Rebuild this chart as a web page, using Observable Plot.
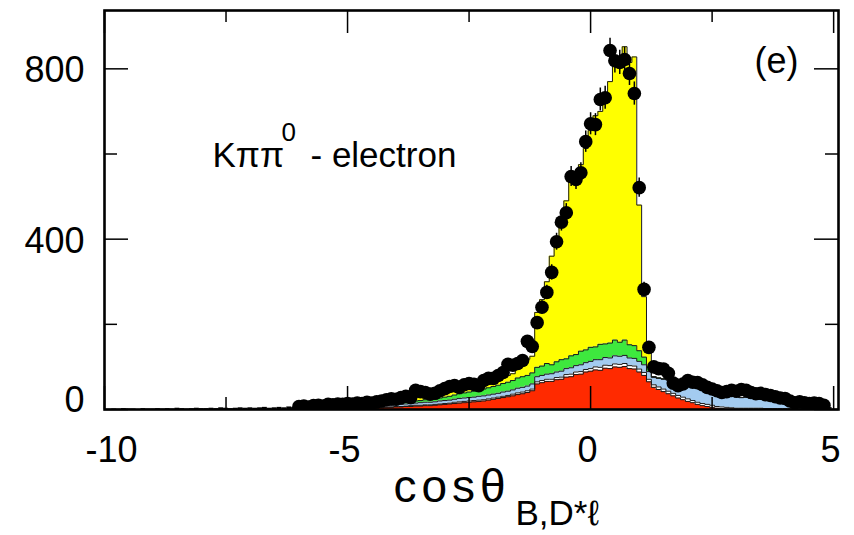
<!DOCTYPE html>
<html><head><meta charset="utf-8">
<script src="https://cdn.jsdelivr.net/npm/d3@7"></script>
<script src="https://cdn.jsdelivr.net/npm/@observablehq/plot@0.6"></script>
<style>
body{margin:0;background:#fff}
#chart svg{display:block}
text[aria-label="xtitle"]{letter-spacing:5px}
</style>
</head><body><div id="chart"></div>
<script>
// bins: centres from -6.0 to 4.9, width 0.1
const firstCentre = -6.0;
const binWidth = 0.1;

// stacked MC components (bottom -> top)
const red = [
  0,0,0,0,0,0,0,0,1,1,
  1,1,2,2,2,3,3,4,5,5,
  6,6,7,7,8,8,9,9,10,11,
  12,13,14,15,16,17,18,19,20,22,
  24,26,28,30,32,35,37,40,44,60,
  63,66,66,70,71,76,77,82,83,88,
  90,93,92,97,96,100,99,101,96,95,
  88,80,65,52,47,42,37,32,27,23,
  19,16,12,9,7,5,3,2,1,1,
  0,0,0,0,0,0,0,0,0,0,
  0,0,0,0,0,0,0,0,0,0];
const white = [
  0,0,0,0,0,0,0,1,0,1,
  1,1,1,1,1,1,1,1,1,1,
  1,1,1,2,2,2,2,2,2,2,
  2,2,3,3,3,3,3,3,3,3,
  3,3,3,3,4,4,4,4,4,5,
  5,5,5,5,5,6,6,6,6,6,
  6,7,7,7,7,7,7,7,7,7,
  7,7,6,6,6,6,6,6,6,6,
  6,5,5,5,5,5,4,4,4,3,
  3,3,3,3,3,3,2,2,2,2,
  2,2,2,2,2,2,2,1,1,1];
const lightBlue = [
  1,1,1,1,2,1,2,2,2,2,
  2,3,3,3,3,3,4,4,4,4,
  4,5,5,5,5,6,6,6,6,7,
  7,7,7,8,8,8,8,9,9,9,
  9,9,10,10,10,11,11,11,12,12,
  12,12,13,13,14,14,15,15,16,16,
  17,17,18,18,18,19,19,19,18,18,
  18,18,18,17,20,23,26,28,30,31,
  33,35,37,37,36,35,35,32,30,28,
  27,25,26,24,25,22,23,20,19,16,
  15,13,12,11,10,9,8,7,5,3];
const green = [
  0,0,0,0,0,1,0,1,1,1,
  1,1,1,2,2,2,2,2,3,3,
  3,3,4,4,5,5,6,6,7,7,
  8,9,10,11,12,13,14,15,16,17,
  18,19,20,21,22,24,25,25,26,22,
  22,25,21,24,27,23,28,26,32,30,
  33,30,36,32,35,37,33,36,31,30,
  25,18,10,2,1,1,1,1,1,1,
  1,1,1,1,1,0,0,0,0,0,
  0,0,0,0,0,0,0,0,0,0,
  0,0,0,0,0,0,0,0,0,0];
const yellow = [
  1,2,1,2,2,2,3,2,3,3,
  3,4,4,4,5,5,5,6,6,7,
  7,8,8,9,9,10,10,11,11,12,
  13,13,14,14,15,16,17,18,18,19,
  16,15,14,16,16,21,33,38,39,129,
  156,192,255,293,323,371,414,426,438,473,
  509,543,547,586,614,649,657,689,663,678,
  342,142,36,0,0,0,0,0,0,0,
  0,0,0,0,0,0,0,0,0,0,
  0,0,0,0,0,0,0,0,0,0,
  0,0,0,0,0,0,0,0,0,0];

// data points (same bins)
const dataCounts = [
  7,8,6,9,10,8,12,11,13,12,
  14,13,15,14,17,15,18,20,23,25,
  24,28,31,28,45,42,40,36,38,44,
  49,54,56,52,58,61,59,56,68,73,
  73,80,87,106,104,108,115,160,148,204,
  240,275,322,394,440,462,547,540,556,629,
  671,669,728,732,843,819,815,822,789,742,
  521,282,146,100,96,95,85,62,56,60,
  68,64,63,58,52,48,44,40,42,45,
  43,47,45,40,37,38,35,33,30,27,
  26,20,16,18,16,14,15,14,10,0];

// far-left data tail, bins centred -9.9 .. -6.1
const tailFirstCentre = -9.9;
const tailCounts = [0,1,0,2,1,1,0,2,1,1, 2,1,2,1,3,2,1,2,3,2, 2,3,2,4,3,2,3,4,3,4, 3,4,5,3,4,5,4,6,5];

const xMajor = [-10, -5, 0, 5];
const xMinor = [-7.5, -2.5, 2.5];
const yMajor = [0, 400, 800];
const yMinor = [200, 600];

const W = 854, H = 535;
const mL = 104, mR = 16, mT = 10, mB = 126;
const innerH = H - mT - mB, innerW = W - mL - mR;

const centres = dataCounts.map((_, i) => Math.round((firstCentre + i * binWidth) * 100) / 100);
const comps = [
  {name: "red", values: red, fill: "#ff2a00"},
  {name: "white", values: white, fill: "#ffffff"},
  {name: "blue", values: lightBlue, fill: "#a3cbf0"},
  {name: "green", values: green, fill: "#3ee83e"},
  {name: "yellow", values: yellow, fill: "#ffff00"}
];
let below = centres.map(() => 0);
const layers = comps.map(c => {
  const pts = centres.map((x, i) => ({x: x - binWidth / 2, y1: below[i], y2: below[i] + c.values[i]}));
  const last = pts[pts.length - 1];
  pts.push({x: centres[centres.length - 1] + binWidth / 2, y1: last.y1, y2: last.y2});
  below = below.map((b, i) => b + c.values[i]);
  return {...c, pts};
});
const points = centres.map((x, i) => ({x, n: dataCounts[i]})).filter(d => d.n > 0);
const tail = tailCounts.map((n, i) => {
  const c = tailFirstCentre + i * binWidth;
  return {x1: c - binWidth / 2, x2: c + binWidth / 2, n};
});

const font = "'Liberation Sans', Arial, Helvetica, sans-serif";

const plot = Plot.plot({
  width: W, height: H,
  marginLeft: mL, marginRight: mR, marginTop: mT, marginBottom: mB,
  style: {fontFamily: font, background: "#fff", color: "#000", overflow: "visible"},
  x: {domain: [-10, 5.1], label: null},
  y: {domain: [0, 937], label: null},
  marks: [
    ...layers.map(l => Plot.areaY(l.pts, {x: "x", y1: "y1", y2: "y2", fill: l.fill, curve: "step-after"})),
    ...layers.map(l => Plot.lineY(l.pts, {x: "x", y: "y2", stroke: "#1a1a1a", strokeWidth: 1, curve: "step-after"})),
    Plot.rectY(tail, {x1: "x1", x2: "x2", y: "n", fill: "#000"}),
    Plot.ruleX(points, {x: "x", y1: d => d.n - Math.sqrt(d.n), y2: d => d.n + Math.sqrt(d.n), stroke: "#000", strokeWidth: 1.5, clip: true}),
    Plot.dot(points, {x: "x", y: "n", r: 6.8, fill: "#000", stroke: "none", clip: true}),
    // inner ticks
    Plot.ruleX(xMajor, {stroke: "#000", strokeWidth: 1.5, insetTop: innerH - 23}),
    Plot.ruleX(xMajor, {stroke: "#000", strokeWidth: 1.5, insetBottom: innerH - 23}),
    Plot.ruleX(xMinor, {stroke: "#000", strokeWidth: 1.5, insetTop: innerH - 12}),
    Plot.ruleX(xMinor, {stroke: "#000", strokeWidth: 1.5, insetBottom: innerH - 12}),
    Plot.ruleY(yMajor, {stroke: "#000", strokeWidth: 1.5, insetRight: innerW - 24}),
    Plot.ruleY(yMajor, {stroke: "#000", strokeWidth: 1.5, insetLeft: innerW - 24}),
    Plot.ruleY(yMinor, {stroke: "#000", strokeWidth: 1.5, insetRight: innerW - 13}),
    Plot.ruleY(yMinor, {stroke: "#000", strokeWidth: 1.5, insetLeft: innerW - 13}),
    Plot.frame({stroke: "#000", strokeWidth: 2.6}),
    // tick labels
    Plot.axisX({ticks: [-5, 0, 5], tickSize: 0, tickPadding: 27, fontSize: 36, tickFormat: d => String(d), dx: -3}),
    Plot.axisX({ticks: [-10], tickSize: 0, tickPadding: 27, fontSize: 36, tickFormat: d => String(d), dx: 7}),
    Plot.axisY({ticks: [400, 800], tickSize: 0, tickPadding: 20, fontSize: 36, tickFormat: d => String(d), dy: 2}),
    Plot.axisY({ticks: [0], tickSize: 0, tickPadding: 20, fontSize: 36, tickFormat: d => String(d), dy: -9}),
    // annotations
    Plot.text(["(e)"], {frameAnchor: "top-right", dx: -40, dy: 37, textAnchor: "end", lineAnchor: "top", fontSize: 36}),
    Plot.text(["K\u03c0\u03c0"], {frameAnchor: "top-left", dx: 108, dy: 132, textAnchor: "start", lineAnchor: "top", fontSize: 35}),
    Plot.text(["0"], {frameAnchor: "top-left", dx: 177, dy: 112, textAnchor: "start", lineAnchor: "top", fontSize: 26}),
    Plot.text(["- electron"], {frameAnchor: "top-left", dx: 206, dy: 132, textAnchor: "start", lineAnchor: "top", fontSize: 35}),
    // axis title
    Plot.text(["cos\u03b8"], {frameAnchor: "bottom-left", dx: 289, dy: 60, textAnchor: "start", lineAnchor: "top", fontSize: 46, ariaLabel: () => "xtitle"}),
    Plot.text(["B,D*\u2113"], {frameAnchor: "bottom-left", dx: 411, dy: 91, textAnchor: "start", lineAnchor: "top", fontSize: 35})
  ]
});
document.getElementById("chart").appendChild(plot);
</script>
</body></html>
